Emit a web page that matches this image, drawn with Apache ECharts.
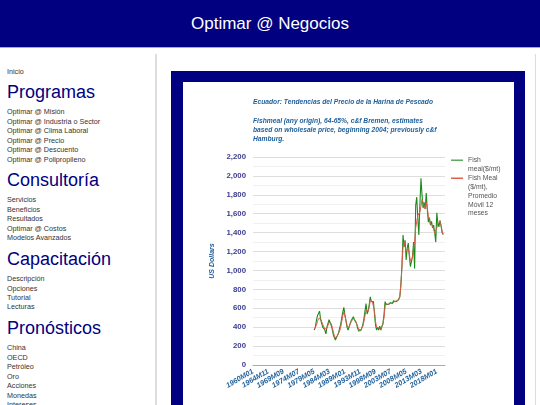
<!DOCTYPE html>
<html>
<head>
<meta charset="utf-8">
<style>
html,body{margin:0;padding:0;width:540px;height:405px;overflow:hidden;background:#fff}
#head{position:absolute;left:0;top:0;width:540px;height:47px;background:#000080;border-bottom:1px solid #aab;color:#fff;font:17px/47px "Liberation Sans",Arial,sans-serif;text-align:center}
#rule1{position:absolute;left:155px;top:54px;width:2px;height:351px;background:#ddd}
#rule2{position:absolute;left:535px;top:54px;width:1px;height:351px;background:#ddd}
#frame{position:absolute;left:171px;top:71px;width:354px;height:334px;background:#000080}
#main{position:absolute;left:183px;top:82px;width:331px;height:323px;background:#fff}
.nav{position:absolute;left:7px;font:7.2px/10px "Liberation Sans",Arial,sans-serif;color:#333;white-space:nowrap}
.sec{position:absolute;left:7px;font:18px/22px "Liberation Sans",Arial,sans-serif;color:#000080;white-space:nowrap}
</style>
</head>
<body>
<div id="head">Optimar @ Negocios</div>
<div id="side"></div>
<div id="rule1"></div>
<div id="rule2"></div>
<div id="frame"></div>
<div id="main"></div>
<script src="https://cdn.jsdelivr.net/npm/echarts@6/dist/echarts.min.js"></script>
<script>
var navItems = [
    ["Inicio",67],
    ["Optimar @ Misión",107],["Optimar @ Industria o Sector",117],["Optimar @ Clima Laboral",126],
    ["Optimar @ Precio",136],["Optimar @ Descuento",145],["Optimar @ Polipropileno",155],
    ["Servicios",195],["Beneficios",205],["Resultados",214],["Optimar @ Costos",224],["Modelos Avanzados",233],
    ["Descripción",274],["Opciones",284],["Tutorial",293],["Lecturas",302],
    ["China",343],["OECD",353],["Petróleo",362],["Oro",372],["Acciones",381],["Monedas",391],["Intereses",400]
];
var navHeads = [["Programas",81],["Consultoría",169],["Capacitación",248],["Pronósticos",317]];

// eje mensual, una etiqueta cada 58 meses
var months = [];
for(var y=1960; y<=2020; y++){
    for(var m=1; m<=12; m++){
        if(y==2020 && m>8) break;
        months.push(y + "M" + (m<10 ? "0"+m : m));
    }
}
var firstMonth = months.indexOf("1979M05");
var stepMonths = 4;
var labelEvery = 58;

// un valor cada 4 meses desde 1979M05
var fishMeal = [
    370,400,470,520,500,570,480,440,400,420,370,330,400,440,480,450,420,380,320,290,
    265,290,310,340,390,430,500,560,610,530,470,400,370,400,440,470,490,510,480,470,
    440,390,360,350,365,390,430,490,570,650,540,570,640,720,670,660,670,540,420,370,
    400,370,410,370,390,440,530,670,640,660,640,620,660,640,650,680,660,670,690,680,
    690,720,850,1050,1375,1250,1320,1110,1240,1290,1150,1040,1060,1150,1300,1020,1690,1775,1550,1375,
    1700,1975,1800,1660,1720,1650,1820,1640,1510,1560,1480,1520,1450,1480,1400,1300,1610,1500,1460,1530,
    1470,1400,1380
];
var fishMealAvg = [
    380,390,420,460,490,510,490,460,430,410,380,370,390,420,450,460,440,400,350,310,
    285,290,310,330,360,400,460,520,560,520,470,420,390,400,430,460,480,490,480,470,
    450,410,380,360,370,380,410,460,520,580,560,570,610,680,690,670,650,570,460,400,
    390,390,400,390,400,430,500,620,650,650,640,640,650,650,650,660,670,670,680,680,
    690,730,850,1040,1250,1300,1280,1200,1210,1230,1170,1100,1090,1130,1240,1300,1450,1520,1580,1560,
    1620,1680,1750,1720,1680,1650,1720,1660,1570,1540,1490,1490,1470,1470,1400,1390,1450,1500,1520,1510,
    1480,1420,1380
];
var yTicks = {min:0, max:2200, interval:200};
var titleText = "Ecuador: Tendencias del Precio de la Harina de Pescado\n\nFishmeal (any origin), 64-65%, c&f Bremen, estimates\nbased on wholesale price, beginning 2004; previously c&f\nHamburg.";
var nameGreen = 'Fish\nmeal($/mt)';
var nameRed = 'Fish Meal\n($/mt),\nPromedio\nMóvil 12\nmeses';
var fontName = 'Liberation Sans';

function monthPairs(values) {
    var list = [];
    for(var i=0; i<values.length; i++){
        list.push([firstMonth + i*stepMonths, values[i]]);
    }
    return list;
}
function initSide() {
    var html = "";
    for(var i=0; i<navItems.length; i++){
        html += '<div class="nav" style="top:'+navItems[i][1]+'px">'+navItems[i][0]+'</div>';
    }
    for(var j=0; j<navHeads.length; j++){
        html += '<div class="sec" style="top:'+navHeads[j][1]+'px">'+navHeads[j][0]+'</div>';
    }
    document.getElementById("side").innerHTML = html;
}
// el simbolo ocupa todo el alto del texto, la raya queda en la primera linea
function legendFor(name, top, height) {
    return {
        orient: 'vertical',
        left: 263,
        top: top,
        itemWidth: 12,
        itemHeight: height,
        icon: 'path://M0,0H0.01V0H0Z M0,3.6H12V5H0Z M0,' + height + 'H0.01V' + height + 'H0Z',
        textStyle: {fontFamily: fontName, fontSize: 6.8, color: '#555', lineHeight: 8.8},
        data: [name]
    };
}
function initChart() {
    var blue = "#1f5f99";
    var option = {
        animation: false,
        title: {
            text: titleText,
            left: 65,
            top: 11,
            textStyle: {fontFamily: fontName, color: blue, fontSize: 6.7, fontWeight: 'bold', fontStyle: 'italic', lineHeight: 9.2}
        },
        legend: [legendFor(nameGreen, 69, 18), legendFor(nameRed, 87, 44)],
        grid: {left: 70, right: 69, top: 75, height: 208},
        xAxis: {
            type: 'category',
            data: months,
            boundaryGap: false,
            axisTick: {show: false},
            axisLine: {lineStyle: {color: '#aaa', width: 1}},
            axisLabel: {
                interval: function (i) { return i % labelEvery == 0; },
                rotate: 30,
                margin: 6,
                lineHeight: 7,
                fontFamily: fontName,
                fontSize: 7.3,
                fontWeight: 'bold',
                fontStyle: 'italic',
                color: blue
            }
        },
        yAxis: {
            type: 'value',
            min: yTicks.min,
            max: yTicks.max,
            interval: yTicks.interval,
            name: 'US Dollars',
            nameLocation: 'middle',
            nameGap: 33,
            nameTextStyle: {fontFamily: fontName, fontSize: 7, fontWeight: 'bold', fontStyle: 'italic', color: blue},
            axisLine: {show: false},
            axisTick: {show: false},
            axisLabel: {
                margin: 7,
                fontFamily: fontName,
                fontSize: 7.8,
                fontWeight: 'bold',
                color: '#3b3b8f',
                formatter: function (v) { return v.toLocaleString('en-US'); }
            },
            splitLine: {lineStyle: {color: '#dedede'}},
            minorTick: {show: false, splitNumber: 2},
            minorSplitLine: {show: true, lineStyle: {color: '#f0f0f0'}}
        },
        series: [
            {
                name: nameGreen,
                type: 'line',
                data: monthPairs(fishMeal),
                showSymbol: false,
                lineStyle: {color: '#1e8a1e', width: 1.1},
                itemStyle: {color: '#5fa85f'}
            },
            {
                name: nameRed,
                type: 'line',
                data: monthPairs(fishMealAvg),
                showSymbol: false,
                lineStyle: {color: '#dd5a48', width: 1},
                itemStyle: {color: '#e0604f'}
            }
        ]
    };
    var chart = echarts.init(document.getElementById("main"));
    chart.setOption(option);
}
initSide();
initChart();
</script>
</body>
</html>
